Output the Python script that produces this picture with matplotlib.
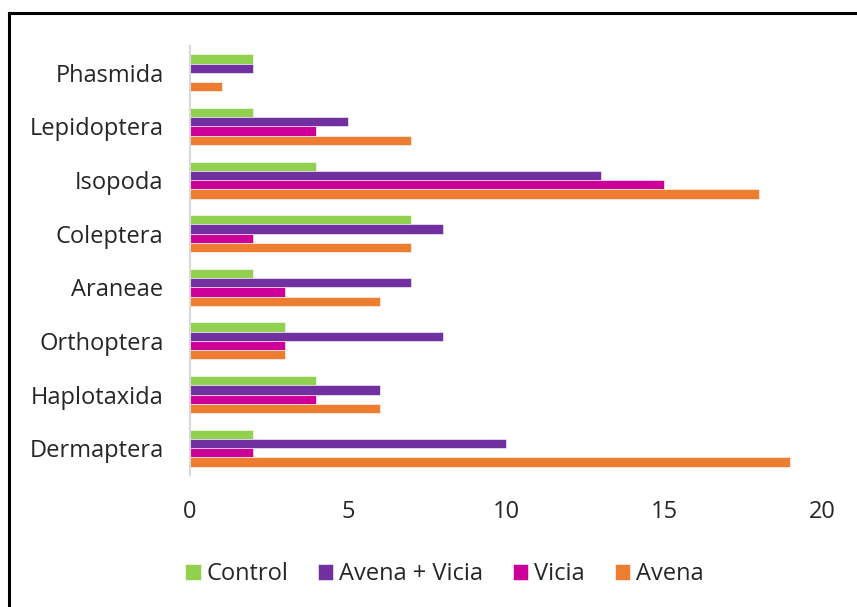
import numpy as np
import matplotlib
matplotlib.use("Agg")
import matplotlib.pyplot as plt
from matplotlib.lines import Line2D

plt.rcParams["font.family"] = ["Open Sans", "DejaVu Sans"]

categories = ["Phasmida", "Lepidoptera", "Isopoda", "Coleptera",
              "Araneae", "Orthoptera", "Haplotaxida", "Dermaptera"]
series = ["Control", "Avena + Vicia", "Vicia", "Avena"]
control     = [2, 2, 4, 7, 2, 3, 4, 2]
avena_vicia = [2, 5, 13, 8, 7, 8, 6, 10]
vicia       = [0, 4, 15, 2, 3, 3, 4, 2]
avena       = [1, 7, 18, 7, 6, 3, 6, 19]
colors = ["#92D050", "#7030A0", "#CC0099", "#ED7D31"]
xticks = [0, 5, 10, 15, 20]

fig = plt.figure(figsize=(8.57, 6.07), dpi=100)
ax = fig.add_axes([0.2217, 0.2175, 0.7375, 0.7067])

y = np.arange(len(categories))
h = 0.172
for k, (name, vals, c) in enumerate(zip(series, [control, avena_vicia, vicia, avena], colors)):
    ax.barh(y + (k - 1.5) * h, vals, height=h, color=c, edgecolor="white",
            linewidth=0.4, label=name)

ax.set_ylim(-0.5, len(categories) - 0.5)
ax.invert_yaxis()
ax.set_xlim(0, 20)
ax.set_xticks(xticks)
ax.set_yticks(y)
ax.set_yticklabels(categories, fontsize=17, color="#262626")
ax.tick_params(axis="x", labelsize=17, colors="#262626", length=0, pad=18)
ax.tick_params(axis="y", length=0, pad=19)
for s in ["top", "right", "bottom"]:
    ax.spines[s].set_visible(False)
ax.spines["left"].set_color("#D9D9D9")
ax.spines["left"].set_linewidth(1.5)

fig.legend(loc="center", bbox_to_anchor=(0.5187, 0.054), ncol=4, frameon=False,
           fontsize=17, handlelength=0.64, handleheight=0.64, handletextpad=0.25,
           columnspacing=1.27, labelcolor="#262626")

# outer frame (left and top edges only visible)
fig.add_artist(Line2D([0.0105, 0.0105], [0.0, 0.979], color="black", lw=2.2,
                      transform=fig.transFigure))
fig.add_artist(Line2D([0.0105, 1.0], [0.979, 0.979], color="black", lw=2.2,
                      transform=fig.transFigure))

fig.savefig("out.png", dpi=100)
